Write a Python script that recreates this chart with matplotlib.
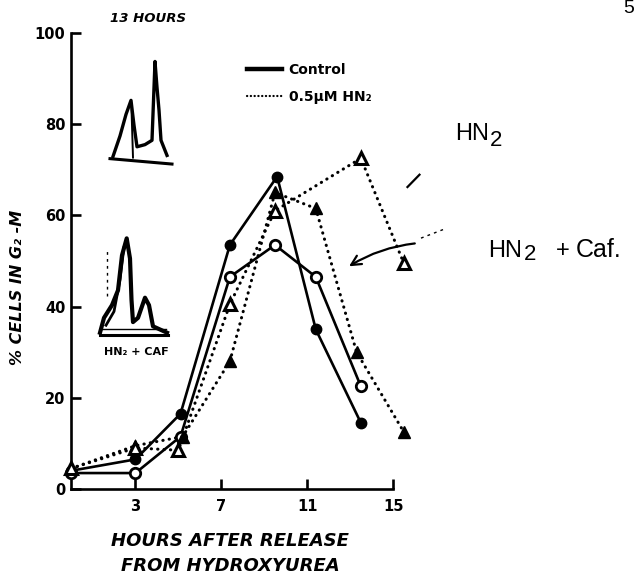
import matplotlib
matplotlib.use("Agg")
import matplotlib.pyplot as plt
from matplotlib.lines import Line2D

# ---- G2-M fraction after release from hydroxyurea ----
# Control, filled circles (solid line)
ctrl_a_hours = [0, 3, 5.1, 7.4, 9.6, 11.4, 13.5]
ctrl_a_pct = [4, 6.5, 16.5, 53.5, 68.5, 35, 14.5]
# Control, open circles (solid line)
ctrl_b_hours = [0, 3, 5.1, 7.4, 9.5, 11.4, 13.5]
ctrl_b_pct = [3.5, 3.5, 11.5, 46.5, 53.5, 46.5, 22.5]
# 0.5 uM HN2 + caffeine, filled triangles (dotted line)
caf_hours = [0, 3, 5.2, 7.4, 9.5, 11.4, 13.3, 15.5]
caf_pct = [4.5, 9.5, 11.5, 28, 65, 61.5, 30, 12.5]
# 0.5 uM HN2, open triangles (dotted line)
hn2_hours = [0, 3, 5.0, 7.4, 9.5, 13.5, 15.5]
hn2_pct = [4.5, 9, 8.5, 40.5, 61, 72.5, 49.5]

x_ticks = [3, 7, 11, 15]
y_ticks = [0, 20, 40, 60, 80, 100]

# DNA-content histogram sketches (channel, relative count)
h13_channel = [3, 10, 16, 21, 24, 27, 35, 42, 45, 47, 49, 51, 57]
h13_count = [6, 25, 45, 58, 35, 15, 17, 21, 94, 70, 49, 21, 7]
caf_channel = [2, 6, 14, 20, 24, 28.7, 32, 33.5, 35, 40, 47, 51, 55, 69]
caf_count = [5, 19, 31, 45, 78, 94, 75, 36, 15, 19, 38, 31, 11, 5]

FONT = "DejaVu Sans"
plt.rcParams["font.family"] = [FONT]

W, H = 634, 576
fig = plt.figure(figsize=(W / 100, H / 100), dpi=100)
ax = fig.add_axes([0.112, 0.151, 0.508, 0.792])


def fx(px):
    return px / W


def fy(py):
    return 1 - py / H


solid = dict(color="black", lw=1.9, solid_capstyle="round", clip_on=False, zorder=3)
dotted = dict(color="black", lw=2.2, linestyle=(0, (0.1, 2.0)),
              dash_capstyle="round", clip_on=False, zorder=3)

ax.plot(ctrl_a_hours, ctrl_a_pct, marker="o", ms=7.5, mfc="black", mec="black", **solid)
ax.plot(ctrl_b_hours, ctrl_b_pct, marker="o", ms=7.5, mfc="white", mec="black",
        mew=2.0, **solid)
ax.plot(caf_hours, caf_pct, marker="^", ms=8, mfc="black", mec="black", **dotted)
ax.plot(hn2_hours, hn2_pct, marker="^", ms=8.5, mfc="white", mec="black",
        mew=2.2, **dotted)

ax.set_xlim(0, 15)
ax.set_ylim(0, 100)
ax.spines["top"].set_visible(False)
ax.spines["right"].set_visible(False)
for s in ("left", "bottom"):
    ax.spines[s].set_linewidth(1.9)
ax.set_xticks(x_ticks)
ax.set_yticks(y_ticks)
ax.tick_params(direction="in", length=7, width=1.9, labelsize=10.5)
ax.tick_params(axis="y", pad=4)
ax.tick_params(axis="x", pad=7)
for lab in ax.get_xticklabels() + ax.get_yticklabels():
    lab.set_fontweight("bold")

# legend
handles = [Line2D([0], [0], color="black", lw=3.2),
           Line2D([0], [0], color="black", lw=1.6, linestyle=(0, (0.1, 1.6)),
                  dash_capstyle="round")]
ax.legend(handles, ["Control", "0.5μM HN₂"], loc="upper left",
          bbox_to_anchor=(fx(247), fy(63)), bbox_transform=fig.transFigure,
          frameon=False, handlelength=2.5, handletextpad=0.5, labelspacing=0.95,
          borderpad=0, borderaxespad=0,
          prop=dict(family=FONT, weight="bold", size=10))

# axis titles
fig.text(fx(18), fy(287), "% CELLS IN G₂ -M", rotation=90,
         ha="center", va="center", fontsize=11.5, fontweight="bold",
         fontstyle="italic")
fig.text(fx(230), fy(541), "HOURS AFTER RELEASE", ha="center",
         va="center", fontsize=13, fontweight="bold", fontstyle="italic")
fig.text(fx(230), fy(566), "FROM HYDROXYUREA", ha="center",
         va="center", fontsize=13, fontweight="bold", fontstyle="italic")

# histogram insets
ins1 = fig.add_axes([fx(108), fy(166), 68 / W, 111 / H])
ins1.plot(h13_channel, h13_count, color="black", lw=2.4, solid_joinstyle="round")
ins1.plot([21.5, 23], [50, 5], color="black", lw=1.4)
ins1.plot([0, 62], [4, -1], color="black", lw=2.2)
ins1.set_xlim(-2, 66)
ins1.set_ylim(-2.8, 100)
ins1.axis("off")
fig.text(fx(148), fy(19), "13 HOURS", ha="center", va="center",
         fontsize=9.5, fontweight="bold", fontstyle="italic")

ins2 = fig.add_axes([fx(96), fy(342), 76 / W, 112 / H])
ins2.plot(caf_channel, caf_count, color="black", lw=3.0, solid_joinstyle="round")
ins2.plot([8, 16, 22, 26, 29], [12, 25, 55, 86, 90], color="black", lw=2.0)
ins2.plot([8.5, 8.5], [40, 85], color="black", lw=1.0, linestyle=(0, (2, 3)))
ins2.plot([2, 70], [3, 3], color="black", lw=2.2)
ins2.plot([3, 68], [8, 8], color="black", lw=1.0)
ins2.set_xlim(-2, 74)
ins2.set_ylim(-3.8, 101.9)
ins2.axis("off")
fig.text(fx(136), fy(352), "HN₂ + CAF", ha="center", va="center",
         fontsize=8, fontweight="bold")

# right-hand annotations
LAB = dict(family="Liberation Sans", ha="left", va="baseline")
fig.text(fx(455), fy(140), "HN", fontsize=17, **LAB)
fig.text(fx(490), fy(146), "2", fontsize=16, **LAB)
fig.text(fx(488), fy(257), "HN", fontsize=17, **LAB)
fig.text(fx(524), fy(260), "2", fontsize=16, **LAB)
fig.text(fx(556), fy(257), "+", fontsize=17, **LAB)
fig.text(fx(576), fy(257), "Caf.", fontsize=18, **LAB)
fig.text(fx(634), fy(0), "5", fontsize=14, family="Liberation Sans",
         ha="right", va="top")

ax.annotate("", xy=(12.84, 48.5), xytext=(16.14, 53.9),
            arrowprops=dict(arrowstyle="->,head_length=0.7,head_width=0.35",
                            lw=1.6, color="black",
                            connectionstyle="arc3,rad=0.12"),
            annotation_clip=False)
ax.plot([16.3, 17.4], [55, 57], color="black", lw=1.0, linestyle=(0, (2, 3)),
        clip_on=False)
ax.plot([15.67, 16.23], [66.2, 68.9], color="black", lw=1.6, clip_on=False)

fig.savefig("out.png", dpi=100)
